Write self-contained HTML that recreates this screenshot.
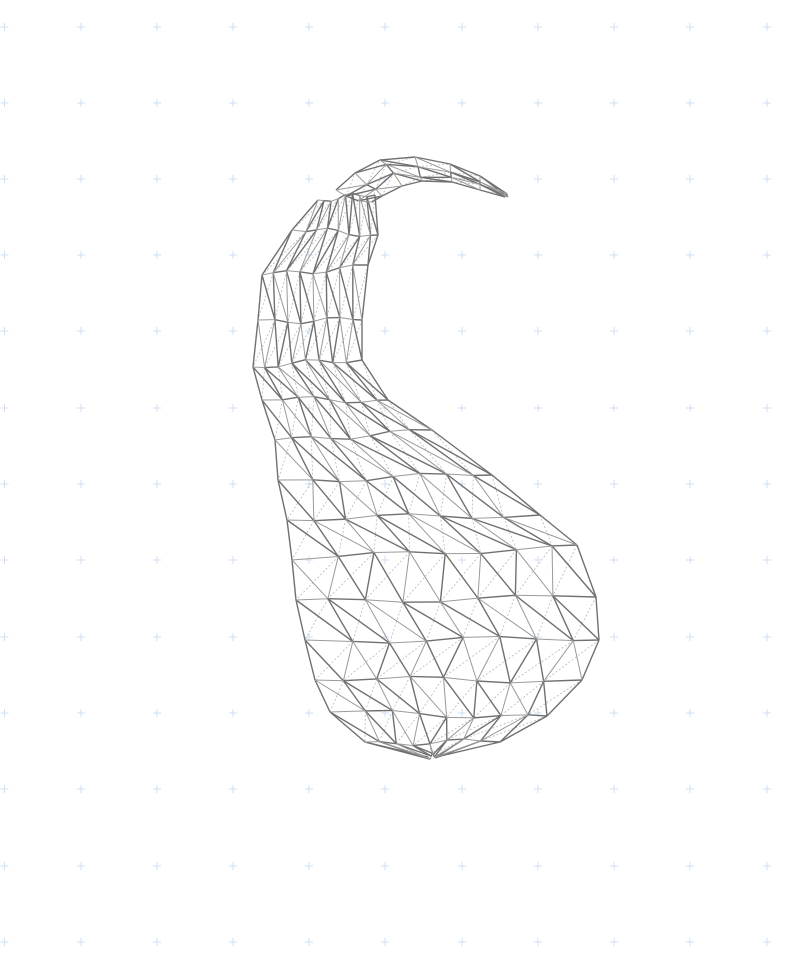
<!DOCTYPE html>
<html><head><meta charset="utf-8"><style>
html,body{margin:0;padding:0;background:#fff;width:804px;height:975px;overflow:hidden}
svg{display:block}
</style></head><body>
<svg id="c" width="804" height="975" viewBox="0 0 804 975"></svg>
<script>
const gridXs=[4.5,81,157,233,309,385,462,538,614,690,767];
const gridYs=[27,103,179,255,331,408,484,560,637,713,789,866,942];
const bodySections=[
[[318,200],[375,195]],[[292,230],[378,235]],[[262,275],[368,265]],[[258,320],[362,320]],
[[253,367],[362,360]],[[262,400],[388,400]],[[275,440],[432,430]],[[278,480],[492,475]],
[[287,520],[540,515]],[[292,560],[577,545]],[[296,600],[596,597]],[[305,640],[599,640]],
[[315,680],[582,680]],[[330,712],[547,716]],[[365,742],[500,742]],[[428,757],[436,757]]];
const stemSections=[
[[336,190],[372,202]],[[355,173],[382,196]],[[380,160],[402,186]],[[415,157],[422,181]],
[[450,164],[452,182]],[[480,176],[480,190]],[[508,197],[505,197]]];
const NS="http://www.w3.org/2000/svg";
const svg=document.getElementById('c');
function add(tag,attrs,name){const e=document.createElementNS(NS,tag);for(const k in attrs)e.setAttribute(k,attrs[k]);


svg.appendChild(e);return e;}
const gg=add('g',{stroke:'#cfdff3','stroke-width':1},'grid-markers');
gridYs.forEach(y=>gridXs.forEach(x=>{
const p=document.createElementNS(NS,'path');p.setAttribute('d',`M${x-4} ${y}H${x+4}M${x} ${y-4}V${y+4}`);


gg.appendChild(p);}));
function mesh(secs,n,name){
const rows=secs.map((s,i)=>{const r=[];for(let j=0;j<=n;j++){let t=j/n;
if(j>0&&j<n)t+=((i%2)?0.5:-0.25)/n*0.6;
const bulge=Math.sin(Math.PI*t)*4*Math.sin(i*1.7+j);
r.push([s[0][0]+(s[1][0]-s[0][0])*t, s[0][1]+(s[1][1]-s[0][1])*t+bulge]);}return r;});
const back=add('g',{stroke:'#b4b8bd','stroke-width':0.8,fill:'none','stroke-dasharray':'2 2'},name+'-back');
const front=add('g',{stroke:'#707070','stroke-width':1.4,fill:'none','stroke-linejoin':'round'},name+'-front');
const mid=add('g',{stroke:'#9a9a9a','stroke-width':1,fill:'none'},name+'-mid');
function ln(g,a,b){const l=document.createElementNS(NS,'line');l.setAttribute('x1',a[0]);l.setAttribute('y1',a[1]);l.setAttribute('x2',b[0]);l.setAttribute('y2',b[1]);


g.appendChild(l);}
for(let i=0;i<rows.length;i++){for(let j=0;j<n;j++){ln((j%2)?front:mid,rows[i][j],rows[i][j+1]);}
if(i+1<rows.length){for(let j=0;j<=n;j++){ln(j==0||j==n?front:((i+j)%2?front:mid),rows[i][j],rows[i+1][j]);
if(j<n){ln((i+j)%3==0?mid:front,rows[i][j],rows[i+1][j+1]);ln(back,rows[i][j+1],rows[i+1][j]);}}}}
}
mesh(bodySections,8,'gourd-body');
mesh(stemSections,3,'gourd-stem');
</script>
</body></html>
